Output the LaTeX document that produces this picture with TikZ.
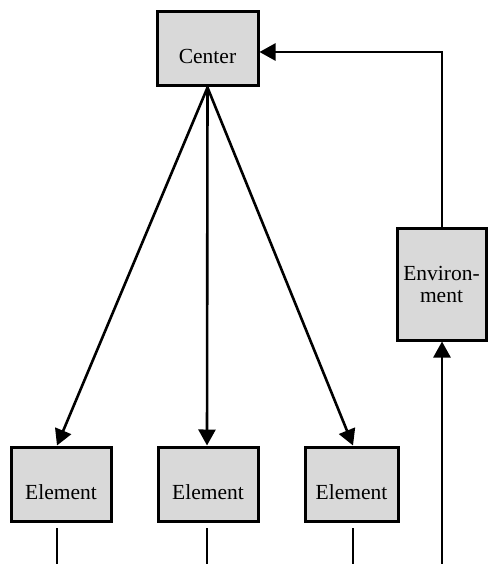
\documentclass[tikz,border=0pt]{standalone}
\usepackage{fontspec}
\setmainfont{Liberation Serif}
\usetikzlibrary{arrows.meta}
\definecolor{boxgray}{RGB}{217,217,217}
\begin{document}
\begin{tikzpicture}[x=1pt,y=-1pt,
  unit/.style={draw=black,line width=3pt,fill=boxgray,inner sep=0pt,
    font=\fontsize{21.5}{22}\selectfont},
  lowlabel/.style={text height=30pt,text depth=0pt},
  flow/.style={line width=2.6pt,-{Triangle[length=16pt,width=17pt]}},
  stub/.style={line width=2.6pt}]
\useasboundingbox (0,0) rectangle (488,564);
% boxes
\node[unit,lowlabel,minimum width=101pt,minimum height=74pt] (center) at (207.5,49) {Center};
\node[unit,lowlabel,minimum width=100pt,minimum height=74pt] (e1) at (61,484) {Element};
\node[unit,lowlabel,minimum width=100pt,minimum height=74pt] (e2) at (208,484) {Element};
\node[unit,lowlabel,minimum width=93pt,minimum height=74pt] (e3) at (351.5,484) {Element};
\node[unit,align=center,minimum width=89pt,minimum height=112pt] (env) at (441.5,284) {Environ-\\ment};
% free line ends along the bottom edge
\coordinate (s1) at (57,528); \coordinate (t1) at (57,564);
\coordinate (s2) at (207,528); \coordinate (t2) at (207,564);
\coordinate (s3) at (353,528); \coordinate (t3) at (353,564);
\coordinate (b4) at (442,564);
\coordinate (corner) at (442,52);
% connectors
\draw[flow] (center.south) -- (e1.north -| 57,0);
\draw[flow] (center.south) -- (e2.north -| 207,0);
\draw[flow] (center.south) -- (e3.north -| 353,0);
\draw[flow] (env.north -| corner) -- (corner) -- (center.east |- corner);
\draw[flow] (b4) -- (env.south -| b4);
\draw[stub] (s1) -- (t1);
\draw[stub] (s2) -- (t2);
\draw[stub] (s3) -- (t3);
\end{tikzpicture}
\end{document}
